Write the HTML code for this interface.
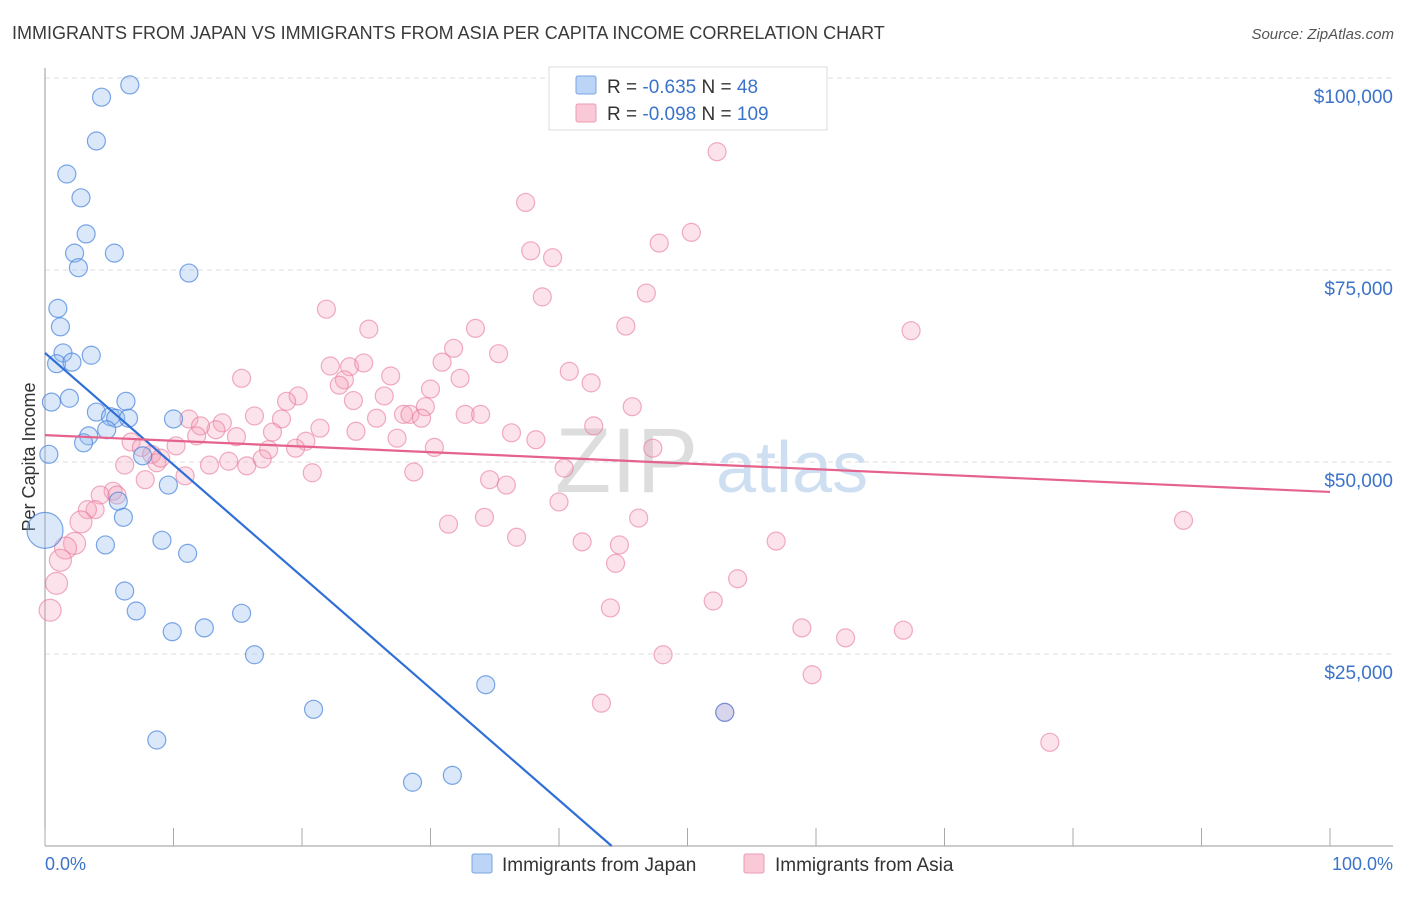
<!DOCTYPE html>
<html><head><meta charset="utf-8"><style>
body{margin:0;background:#fff;font-family:"Liberation Sans",sans-serif;}
svg text{font-family:"Liberation Sans",sans-serif;}
</style></head><body>
<svg width="1406" height="892" xmlns="http://www.w3.org/2000/svg">
<text x="12" y="39" font-size="18" fill="#3a3a3a">IMMIGRANTS FROM JAPAN VS IMMIGRANTS FROM ASIA PER CAPITA INCOME CORRELATION CHART</text>
<text x="1394" y="39" font-size="15" fill="#555" text-anchor="end" font-style="italic">Source: ZipAtlas.com</text>
<g id="grid"></g>
<g><text x="555" y="492" font-size="92" fill="#ddd" font-family="Liberation Serif,serif">ZIP</text><text x="716" y="492" font-size="72" fill="#cfdff2">atlas</text></g>
<line x1="45" y1="68" x2="45" y2="846" stroke="#999"/>
<line x1="45" y1="846" x2="1393" y2="846" stroke="#999"/>
<g id="ticks"></g>
<g id="ylabels"></g>
<text x="35" y="457" font-size="18" fill="#333" text-anchor="middle" transform="rotate(-90 35 457)">Per Capita Income</text>
<text x="45" y="870" font-size="18" fill="#3b73c9">0.0%</text>
<text x="1393" y="870" font-size="18" fill="#3b73c9" text-anchor="end">100.0%</text>
<g id="pink"></g>
<g id="blue"></g>
<g id="trends"></g>
<g>
<rect x="549" y="67" width="278" height="63" fill="#fff" stroke="#ddd"/>
<rect x="576" y="76" width="20" height="18" fill="#bcd4f5" stroke="#7aa6e6" rx="2"/>
<rect x="576" y="104" width="20" height="18" fill="#f9c9d7" stroke="#ee9ab3" rx="2"/>
<text x="607" y="93" font-size="19" fill="#333">R = <tspan fill="#3b73c9">-0.635</tspan>   N =  <tspan fill="#3b73c9"> 48</tspan></text>
<text x="607" y="120" font-size="19" fill="#333">R = <tspan fill="#3b73c9">-0.098</tspan>   N = <tspan fill="#3b73c9">109</tspan></text>
</g>
<g>
<rect x="472" y="854" width="20" height="19" fill="#bcd4f5" stroke="#7aa6e6" rx="2"/>
<text x="502" y="871" font-size="19" fill="#333">Immigrants from Japan</text>
<rect x="744" y="854" width="20" height="19" fill="#f9c9d7" stroke="#ee9ab3" rx="2"/>
<text x="775" y="871" font-size="19" fill="#333">Immigrants from Asia</text>
</g>
</svg>
<script>
const yTicks=[25000,50000,75000,100000];
const yTickLabels=["$25,000","$50,000","$75,000","$100,000"];
const japanX=[6.6,4.4,4.0,1.7,2.8,3.2,2.3,5.4,2.6,11.2,1.0,1.2,1.4,3.6,0.9,2.1,0.5,1.9,6.3,4.0,5.1,5.5,6.5,4.8,10.0,3.4,3.0,7.6,0.3,9.6,5.7,6.1,0.0,4.7,9.1,11.1,6.2,7.1,15.3,9.9,12.4,16.3,34.3,20.9,52.9,8.7,28.6,31.7];
const japanY=[99.1,97.5,91.8,87.5,84.4,79.7,77.2,77.2,75.3,74.6,70.0,67.6,64.2,63.9,62.8,63.0,57.8,58.3,57.9,56.5,55.9,55.7,55.7,54.2,55.6,53.4,52.5,50.8,51.0,47.0,44.9,42.8,41.1,39.2,39.8,38.1,33.2,30.6,30.3,27.9,28.4,24.9,21.0,17.8,17.4,13.8,8.3,9.2];
const asiaX=[52.3,37.4,50.3,47.8,37.8,39.5,46.8,38.7,21.9,67.4,45.2,33.5,25.2,31.8,35.3,30.9,22.2,23.7,24.8,40.8,15.3,26.9,32.3,23.3,42.5,22.9,19.7,26.4,18.8,45.7,29.6,27.9,28.4,32.7,33.9,25.8,29.3,16.3,18.4,11.2,13.8,13.3,12.1,42.7,21.4,24.2,36.3,17.7,14.9,11.8,38.2,27.4,20.3,6.7,10.2,7.5,30.3,19.5,47.3,17.4,8.3,16.9,14.3,12.8,6.2,8.7,15.7,40.4,20.8,28.7,7.8,10.9,34.6,35.9,5.3,4.3,5.6,40.0,3.9,3.3,34.2,46.2,31.4,2.8,88.6,36.7,2.3,41.8,44.7,56.9,1.6,44.4,1.2,53.9,0.9,52.0,44.0,0.4,58.9,62.3,66.8,48.1,59.7,43.3,78.2,52.9,9.0,24.0,30.0];
const asiaY=[90.4,83.8,79.9,78.5,77.5,76.6,72.0,71.5,69.9,67.1,67.7,67.4,67.3,64.8,64.1,63.0,62.5,62.4,62.9,61.8,60.9,61.2,60.9,60.7,60.3,60.0,58.6,58.6,57.9,57.2,57.2,56.2,56.2,56.2,56.2,55.7,55.7,56.0,55.6,55.6,55.1,54.2,54.7,54.7,54.4,54.0,53.8,53.9,53.3,53.4,52.9,53.1,52.7,52.6,52.1,51.9,51.9,51.8,51.8,51.6,51.0,50.4,50.1,49.6,49.6,49.9,49.5,49.2,48.6,48.7,47.7,48.2,47.7,47.0,46.2,45.7,45.7,44.8,43.8,43.8,42.8,42.7,41.9,42.2,42.4,40.2,39.4,39.6,39.2,39.7,38.8,36.8,37.2,34.8,34.2,31.9,31.0,30.7,28.4,27.1,28.1,24.9,22.3,18.6,13.5,17.4,50.5,58.0,59.5];
const japanTrend=[64.2,0];   // income (k) at 0% and 100%*? computed below
const japanTrendEndX=44.1;
const asiaTrend=[53.5,46.1];
const X=p=>45+p*12.85, Y=k=>846-k*1000/25000*192;
const NS="http://www.w3.org/2000/svg";
function mk(t,a,parent){const e=document.createElementNS(NS,t);for(const k in a)e.setAttribute(k,a[k]);parent.appendChild(e);return e;}
const grid=document.getElementById('grid'),yl=document.getElementById('ylabels'),tk=document.getElementById('ticks');
yTicks.forEach((v,i)=>{
 const l=mk('line',{x1:45,x2:1393,y1:Y(v/1000),y2:Y(v/1000),stroke:'#ddd','stroke-dasharray':'5,4'},grid);
 
 
 const t=mk('text',{x:1393,y:Y(v/1000)+25,'font-size':19,fill:'#3b73c9','text-anchor':'end'},yl);
 t.textContent=yTickLabels[i];
 
 
});
{const l=mk('line',{x1:45,x2:1393,y1:78,y2:78,stroke:'#ddd','stroke-dasharray':'5,4'},grid);}
for(let i=0;i<=10;i++){const t=mk('line',{x1:X(i*10),x2:X(i*10),y1:828,y2:846,stroke:'#aaa'},tk);
 
 }
const pk=document.getElementById('pink');
asiaX.forEach((x,i)=>{const c=mk('circle',{cx:X(x),cy:Y(asiaY[i]),r:x<3?11:9,fill:'rgba(244,160,185,0.3)',stroke:'rgba(232,120,155,0.6)','stroke-width':1.2},pk);
 
 });
const bl=document.getElementById('blue');
japanX.forEach((x,i)=>{const c=mk('circle',{cx:X(x),cy:Y(japanY[i]),r:x<0.2?18:9,fill:'rgba(150,190,240,0.35)',stroke:'rgba(70,130,220,0.7)','stroke-width':1.2},bl);
 
 });
const tr=document.getElementById('trends');
const bt=mk('line',{x1:X(0),y1:Y(japanTrend[0]),x2:X(japanTrendEndX),y2:Y(japanTrend[1]),stroke:'#2f6fd6','stroke-width':2.2},tr);


const pt=mk('line',{x1:X(0),y1:Y(asiaTrend[0]),x2:X(100),y2:Y(asiaTrend[1]),stroke:'#e5628c','stroke-width':2.2},tr);


</script>
</body></html>
